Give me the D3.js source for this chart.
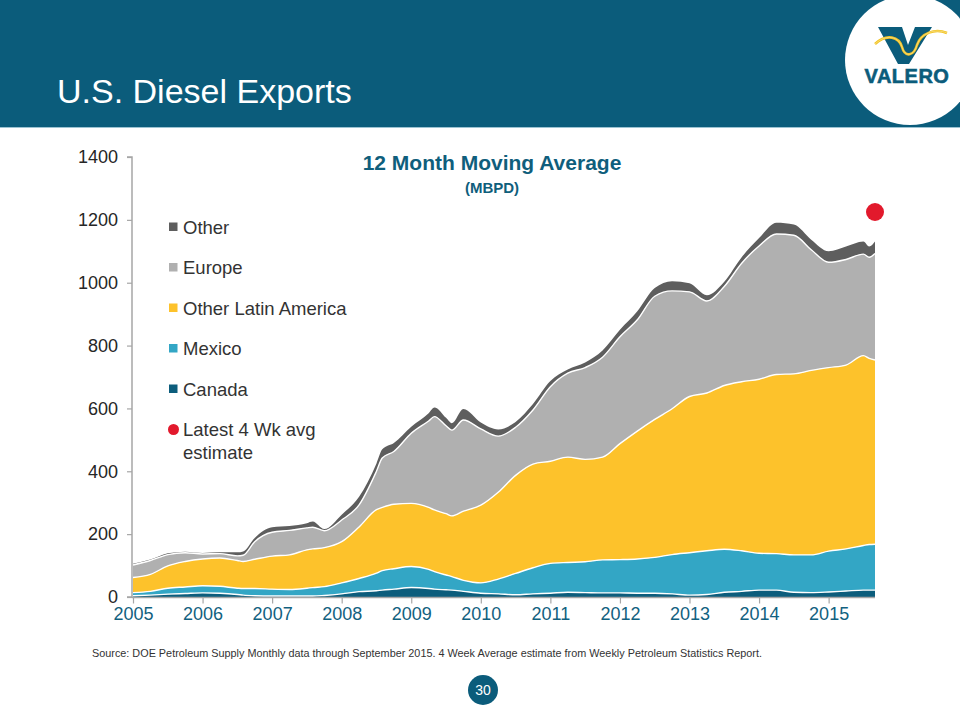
<!DOCTYPE html>
<html>
<head>
<meta charset="utf-8">
<script src="https://cdn.jsdelivr.net/npm/d3@7"></script>
<style>
  html, body { margin: 0; padding: 0; background: #ffffff; }
  svg { display: block; font-family: Arial, "Liberation Sans", Helvetica, sans-serif; }
</style>
</head>
<body>
<svg id="chart" width="960" height="720"></svg>
<script>
// ---------- DATA (MBPD) ----------
const dates = ["2005-01","2005-04","2005-07","2005-10","2006-01","2006-04","2006-07","2006-08","2006-10",
  "2007-01","2007-04","2007-07","2007-08","2007-10","2008-01","2008-04","2008-07","2008-08","2008-10",
  "2009-01","2009-04","2009-05","2009-07","2009-08","2009-10","2010-01","2010-04","2010-07","2010-10",
  "2011-01","2011-04","2011-07","2011-10","2012-01","2012-04","2012-07","2012-10","2013-01","2013-04",
  "2013-07","2013-10","2014-01","2014-04","2014-07","2014-10","2015-01","2015-04","2015-07","2015-08","2015-09"];
const canada     = [4,6,9,11,13,12,8,6,4,3,3,3,3,5,10,17,20,22,25,30,27,25,23,22,18,12,10,7,10,12,15,14,13,13,12,12,10,6,8,15,18,22,22,15,14,16,19,22,22,22];
const mexico     = [10,12,19,21,23,22,20,21,23,22,21,25,27,28,35,42,56,62,65,67,61,56,47,43,35,33,47,68,83,95,95,98,105,106,109,114,125,135,139,137,129,117,116,119,120,130,134,142,145,146];
const otherLatAm = [48,54,71,81,85,90,88,86,93,105,110,122,123,124,131,164,202,201,205,201,197,196,195,193,220,247,276,312,330,325,335,326,327,369,407,439,464,497,502,521,538,554,570,576,587,584,585,604,592,586];
const europe     = [40,44,36,28,16,14,15,20,56,76,78,70,69,54,69,70,122,157,168,223,275,297,280,273,290,243,179,153,172,237,267,292,318,340,354,392,375,333,293,315,377,424,447,441,384,335,336,323,322,339];
const other      = [4,3,4,3,3,4,11,12,12,16,14,15,18,5,17,26,25,28,27,21,25,29,25,22,35,20,21,17,19,18,12,16,21,22,27,26,31,27,18,15,19,25,36,34,32,35,41,40,34,38];
const latestDate = "2015-09";
const latestEstimate = 1225;
const seriesKeys   = ["Canada","Mexico","Other Latin America","Europe","Other"];
const seriesColors = ["#0c5d7c","#33a6c5","#fdc22b","#b0b0b0","#5e5e5e"];
const yTickValues  = [0,200,400,600,800,1000,1200,1400];
const xTickYears   = [2005,2006,2007,2008,2009,2010,2011,2012,2013,2014,2015];
const legendItems  = ["Other","Europe","Other Latin America","Mexico","Canada"];

// ---------- helpers ----------
const toYear = s => { const [y, m] = s.split("-").map(Number); return y + (m - 1) / 12; };
const table = dates.map((d, i) => ({
  t: toYear(d),
  "Canada": canada[i], "Mexico": mexico[i], "Other Latin America": otherLatAm[i],
  "Europe": europe[i], "Other": other[i]
}));

const svg = d3.select("#chart");
const TEAL = "#0b5c7b";

// ---------- header ----------
svg.append("rect").attr("x", 0).attr("y", 0).attr("width", 960).attr("height", 127).attr("fill", TEAL);
svg.append("line").attr("x1", 0).attr("x2", 960).attr("y1", 127.5).attr("y2", 127.5)
  .attr("stroke", "#9cc3d2").attr("stroke-width", 1.2);
svg.append("text").attr("x", 57).attr("y", 103).attr("fill", "#ffffff")
  .attr("font-size", 34).text("U.S. Diesel Exports");

// logo
const logo = svg.append("g");
logo.append("circle").attr("cx", 910).attr("cy", 60).attr("r", 65).attr("fill", "#ffffff");
logo.append("path").attr("d", "M878,27 L902,27 L908,45 L915,27 L932,27 L909,64 L898,64 Z").attr("fill", TEAL);
logo.append("path").attr("d", "M875,44 C887,33 899,37 902,47 C905,58 914,56 917,45 C921,33 935,28 947,33")
  .attr("fill", "none").attr("stroke", "#f2c424").attr("stroke-width", 2.6);
logo.append("path").attr("d", "M875,44 C887,33 899,37 902,47 C905,58 914,56 917,45 C921,33 935,28 947,33")
  .attr("fill", "none").attr("stroke", "#ffffff").attr("stroke-width", 0.6).attr("opacity", 0.6);
logo.append("text").attr("x", 907).attr("y", 83).attr("text-anchor", "middle")
  .attr("font-size", 20).attr("font-weight", "900").attr("letter-spacing", 0.5)
  .attr("fill", TEAL).attr("stroke", TEAL).attr("stroke-width", 0.6).text("VALERO");

// ---------- scales ----------
const x = d3.scaleLinear().domain([2005, toYear(latestDate)]).range([133, 875]);
const y = d3.scaleLinear().domain([0, 1400]).range([597, 157]);

// ---------- stacked areas ----------
const stacked = d3.stack().keys(seriesKeys)(table);
const area = d3.area().x(d => x(d.data.t)).y0(d => y(d[0])).y1(d => y(d[1])).curve(d3.curveMonotoneX);
const topLine = d3.line().x(d => x(d.data.t)).y(d => y(d[1])).curve(d3.curveMonotoneX);

svg.append("g").selectAll("path").data(stacked).join("path")
  .attr("d", area).attr("fill", (d, i) => seriesColors[i]);
svg.append("g").selectAll("path").data(stacked.slice(0, 4)).join("path")
  .attr("d", topLine).attr("fill", "none").attr("stroke", "#ffffff").attr("stroke-width", 1.4);

// ---------- axes ----------
const axisColor = "#a6a6a6";
const yAxis = svg.append("g").attr("transform", `translate(${x(2005) - 1},0)`)
  .call(d3.axisLeft(y).tickValues(yTickValues).tickSize(5).tickPadding(9).tickFormat(d3.format("d")));
yAxis.select(".domain").attr("stroke", axisColor).attr("stroke-width", 1.5).attr("d", `M-5,${y(1400)}H0V${y(0)}H-5`);
yAxis.selectAll(".tick line").attr("stroke", axisColor).attr("stroke-width", 1.2);
yAxis.selectAll(".tick text").attr("fill", "#262626").attr("font-size", 18)
  .attr("font-family", "Arial, 'Liberation Sans', sans-serif");

const xAxis = svg.append("g").attr("transform", `translate(0,${y(0) + 0.5})`)
  .call(d3.axisBottom(x).tickValues(xTickYears).tickSize(6).tickPadding(4).tickFormat(d3.format("d")));
xAxis.select(".domain").attr("stroke", axisColor).attr("stroke-width", 1.5).attr("d", `M${x(2005) - 1},0H${x(toYear(latestDate))}`);
xAxis.selectAll(".tick line").attr("stroke", axisColor).attr("stroke-width", 1.2);
xAxis.selectAll(".tick text").attr("fill", "#12617f").attr("font-size", 18)
  .attr("font-family", "Arial, 'Liberation Sans', sans-serif");

// ---------- latest estimate dot ----------
svg.append("circle").attr("cx", x(toYear(latestDate))).attr("cy", y(latestEstimate))
  .attr("r", 9).attr("fill", "#e2192c");

// ---------- chart title ----------
svg.append("text").attr("x", 492).attr("y", 170).attr("text-anchor", "middle")
  .attr("font-size", 21).attr("font-weight", "bold").attr("fill", "#0f5e7c").text("12 Month Moving Average");
svg.append("text").attr("x", 492).attr("y", 193).attr("text-anchor", "middle")
  .attr("font-size", 15).attr("font-weight", "bold").attr("fill", "#0f5e7c").text("(MBPD)");

// ---------- legend ----------
const legend = svg.append("g");
const legendY0 = 227, legendStep = 40.5;
legendItems.forEach((name, i) => {
  const cy = legendY0 + i * legendStep;
  legend.append("rect").attr("x", 169).attr("y", cy - 4.5).attr("width", 8.5).attr("height", 8.5)
    .attr("fill", seriesColors[seriesKeys.indexOf(name)]);
  legend.append("text").attr("x", 183).attr("y", cy + 6.5).attr("font-size", 18.5)
    .attr("fill", "#333333").text(name);
});
const latestY = legendY0 + 5 * legendStep;
legend.append("circle").attr("cx", 173.5).attr("cy", latestY).attr("r", 5.5).attr("fill", "#e2192c");
legend.append("text").attr("x", 183).attr("y", latestY + 6.5).attr("font-size", 18.5).attr("fill", "#333333").text("Latest 4 Wk avg");
legend.append("text").attr("x", 183).attr("y", latestY + 29).attr("font-size", 18.5).attr("fill", "#333333").text("estimate");

// ---------- source & page number ----------
svg.append("text").attr("x", 92).attr("y", 657).attr("font-size", 11.2).attr("fill", "#333333")
  .attr("textLength", 670).attr("lengthAdjust", "spacingAndGlyphs")
  .text("Source:  DOE Petroleum Supply Monthly data through September 2015.  4 Week Average estimate from Weekly Petroleum Statistics Report.");
svg.append("circle").attr("cx", 483).attr("cy", 690).attr("r", 15).attr("fill", TEAL);
svg.append("text").attr("x", 483).attr("y", 695).attr("text-anchor", "middle")
  .attr("font-size", 14).attr("fill", "#ffffff").text("30");
</script>
</body>
</html>
